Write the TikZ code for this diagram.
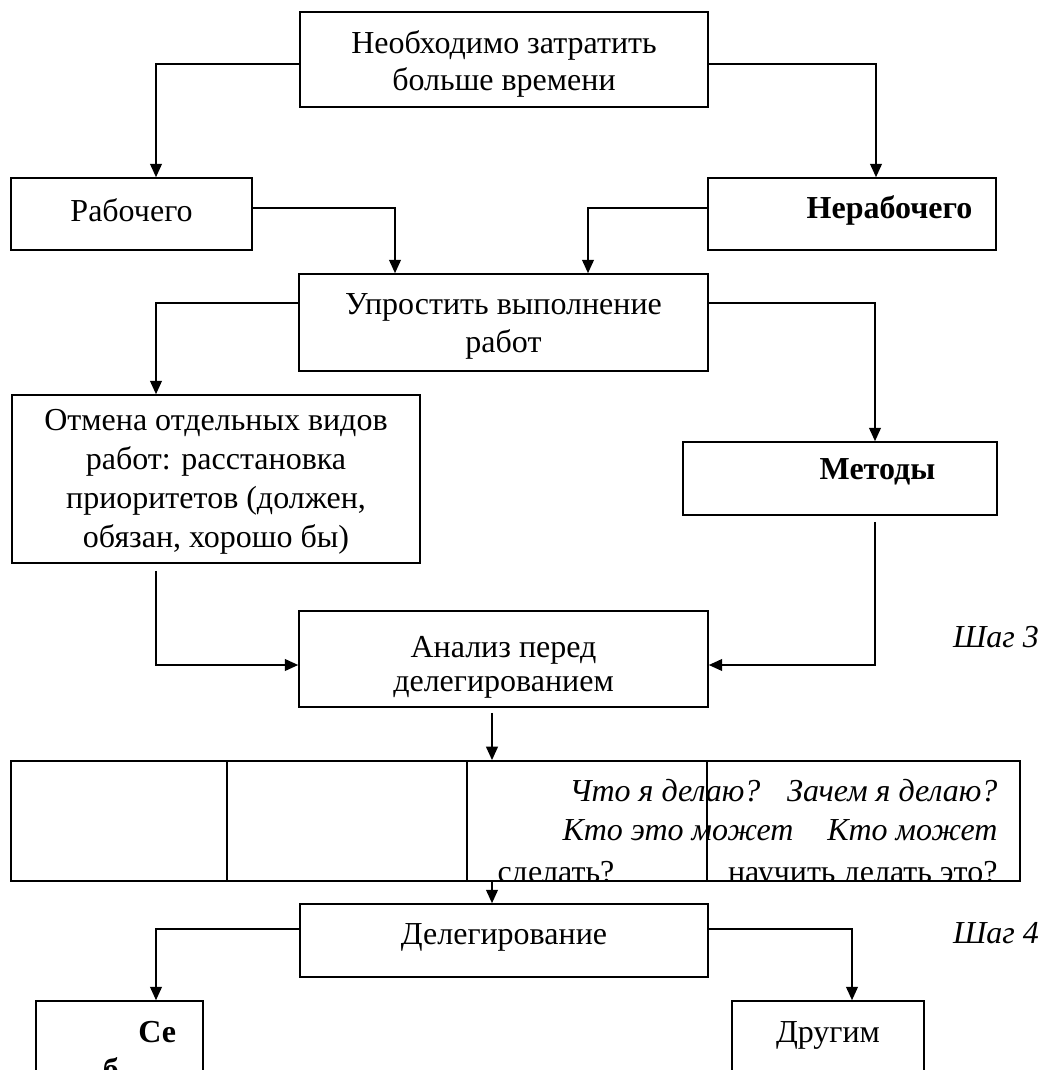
\documentclass[tikz,border=0pt]{standalone}
\usepackage{fontspec}
\setmainfont{Liberation Serif}
\usetikzlibrary{arrows.meta,calc}
\def\u{0.375pt}
\tikzset{
  box/.style={draw, line width=0.6pt, inner sep=0pt, align=center,
    font=\fontsize{12}{14.2}\selectfont},
  boxt/.style={inner sep=0pt, align=center, font=\fontsize{12}{14.2}\selectfont},
  arr/.style={-{Triangle[length=5pt,width=4.4pt]}, line width=0.6pt},
  qtext/.style={inner sep=0pt, font=\fontsize{12}{14.2}\selectfont\itshape},
  rtext/.style={inner sep=0pt, font=\fontsize{12}{14.2}\selectfont},
  steplabel/.style={inner sep=0pt, font=\fontsize{12}{14.2}\selectfont\itshape},
}
\begin{document}
\begin{tikzpicture}[x=0.375pt,y=-0.375pt]
\path[use as bounding box, clip] (0,0) rectangle (1052,1070);

% boxes
\node[box, minimum width=408*\u, minimum height=95*\u,
  label={[boxt, yshift=-4.5*\u]center:{Необходимо затратить\\больше времени}}] (top) at (504,59.5) {};
\node[box, minimum width=241*\u, minimum height=72*\u,
  label={[boxt, yshift=4*\u]center:{Рабочего}}] (rab) at (131.5,214) {};
\node[box, minimum width=288*\u, minimum height=72*\u,
  label={[boxt, anchor=east, xshift=-24*\u, yshift=4*\u]east:{\textbf{Нерабочего}}}] (nerab) at (852,214) {};
\node[box, minimum width=409*\u, minimum height=97*\u,
  label={[boxt, yshift=-4*\u]center:{Упростить выполнение\\работ}}] (upr) at (503.5,322.5) {};
\node[box, minimum width=408*\u, minimum height=168*\u,
  label={[boxt, font=\fontsize{12}{14.6}\selectfont, yshift=-3*\u]center:{Отмена отдельных видов\\работ: расстановка\\приоритетов (должен,\\обязан, хорошо бы)}}] (otm) at (216,479) {};
\node[box, minimum width=314*\u, minimum height=73*\u,
  label={[boxt, anchor=east, xshift=-62*\u, yshift=6.5*\u]east:{\textbf{Методы}}}] (met) at (840,478.5) {};
\node[box, minimum width=409*\u, minimum height=96*\u,
  label={[boxt, font=\fontsize{12}{12.6}\selectfont, yshift=-8.5*\u]center:{Анализ перед\\делегированием}}] (anal) at (503.5,659) {};
\node[steplabel] (step3) at (996,637) {Шаг 3};

% table
\node[draw, line width=0.7pt, inner sep=0pt, minimum width=1009*\u, minimum height=120*\u]
  (tbl) at (515.5,821) {};
\begin{scope}
\clip (11,761) rectangle (1020,881);
\node[qtext, anchor=base west] (q1) at (569,801) {Что я делаю?};
\node[qtext, anchor=base east] (q2) at (998,801) {Зачем я делаю?};
\node[qtext, anchor=base west] (q3) at (562,840) {Кто это может};
\node[qtext, anchor=base east] (q4) at (998,840) {Кто может};
\node[rtext, anchor=base west] (q5) at (497,882) {сделать?};
\node[rtext, anchor=base east] (q6) at (998,882) {научить делать это?};
\end{scope}
\foreach \dx in {217,457,697}
  \draw[line width=0.7pt] ($(tbl.north west)+(\dx,0)$) -- ($(tbl.south west)+(\dx,0)$);

\node[box, minimum width=408*\u, minimum height=73*\u,
  label={[boxt, yshift=3*\u]center:{Делегирование}}] (del) at (504,940.5) {};
\node[steplabel] (step4) at (996,933) {Шаг 4};

\node[box, minimum width=167*\u, minimum height=100*\u, inner xsep=27*\u,
  text width=113*\u, align=right, font=\fontsize{12}{14.2}\selectfont\bfseries] (sebe) at (119.5,1051)
  {Се\\б\rule{21.4pt}{0pt}};
\node[box, minimum width=192*\u, minimum height=100*\u] (drug) at (828,1051)
  {Другим\\\mbox{}};

% connectors
\draw[arr] ($(top.west)+(0,4.5)$) -| ($(rab.north)+(24.5,0)$);
\draw[arr] ($(top.east)+(0,4.5)$) -| ($(nerab.north)+(24,0)$);
\draw[arr] ($(rab.east)+(0,-6)$) -| ($(upr.north)+(-108.5,0)$);
\draw[arr] ($(nerab.west)+(0,-6)$) -| ($(upr.north)+(84.5,0)$);
\draw[arr] ($(upr.west)+(0,-19.5)$) -| ($(otm.north)+(-60,0)$);
\draw[arr] ($(upr.east)+(0,-19.5)$) -| ($(met.north)+(35,0)$);
\draw[arr] ($(otm.south)+(-60,7)$) |- ($(anal.west)+(0,6)$);
\draw[arr] ($(met.south)+(35,6)$) |- ($(anal.east)+(0,6)$);
\draw[arr] ($(anal.south)+(-11.5,5)$) -- ($(tbl.north)+(-23.5,0)$);
\draw[arr] ($(tbl.south)+(-23.5,0)$) -- ($(del.north)+(-12,0)$);
\draw[arr] ($(del.west)+(0,-11.5)$) -| ($(sebe.north)+(36.5,0)$);
\draw[arr] ($(del.east)+(0,-11.5)$) -| ($(drug.north)+(24,0)$);
\end{tikzpicture}
\end{document}
